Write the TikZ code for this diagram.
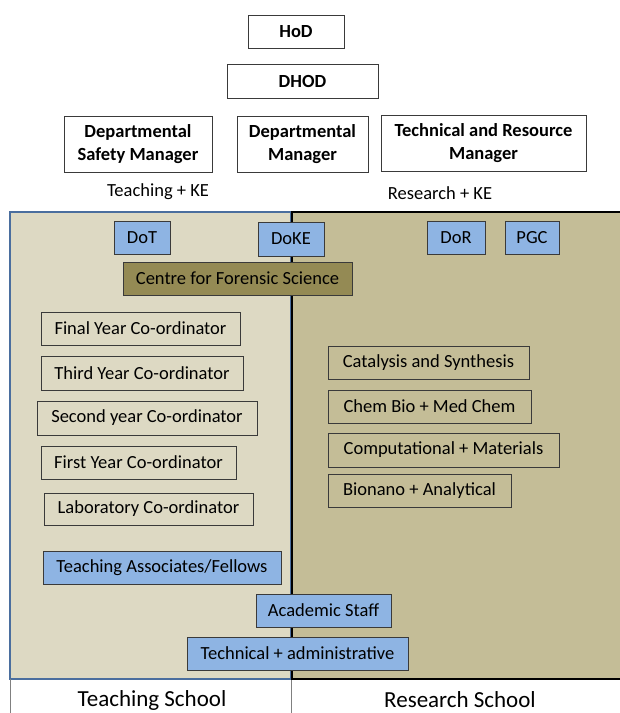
\documentclass[tikz,border=0pt]{standalone}
\usepackage{fontspec}
\setmainfont{Carlito}
\definecolor{panelL}{HTML}{DDD9C3}
\definecolor{panelR}{HTML}{C4BD97}
\definecolor{boxblue}{HTML}{8EB4E3}
\definecolor{olive}{HTML}{948A54}
\definecolor{bordblue}{HTML}{4A6E9E}
\definecolor{boxline}{HTML}{3A3A3A}
\begin{document}
\begin{tikzpicture}[x=1pt,y=-1pt,
  base/.style={draw=boxline,line width=0.9pt,inner sep=0pt,align=center,
    font=\fontsize{18.5}{22.5}\selectfont},
  topbox/.style={base,fill=white,font=\fontsize{18.5}{22.5}\selectfont\bfseries},
  bluebox/.style={base,fill=boxblue},
  coordbox/.style={base,fill=none},
  olivebox/.style={base,fill=olive},
  plain/.style={inner sep=0pt,font=\fontsize{18.5}{22.5}\selectfont},
  schoollabel/.style={inner sep=0pt,font=\fontsize{23}{27}\selectfont}]
\useasboundingbox (0,0) rectangle (620,713);
\fill[white] (0,0) rectangle (620,713);
% top hierarchy
\node[topbox,minimum width=96pt,minimum height=33pt] (hod) at (296,31.5) {HoD};
\node[topbox,minimum width=151pt,minimum height=34pt] (dhod) at (302.5,81) {DHOD};
\node[topbox,minimum width=148pt,minimum height=56pt] (dsm) at (138,144) {Departmental\\Safety Manager};
\node[topbox,minimum width=131pt,minimum height=56pt] (dm) at (302.5,144) {Departmental\\Manager};
\node[topbox,minimum width=205pt,minimum height=56pt] (trm) at (483.5,143) {Technical and Resource\\Manager};
\node[plain] (tke) at (158,192) {Teaching + KE};
\node[plain] (rke) at (440,193) {Research + KE};
% panels
\path[fill=panelL,draw=bordblue,line width=1.8pt] (10,212) rectangle (291,679);
\path[fill=panelR,draw=black,line width=2.4pt] (292,212) rectangle (628,679);
\coordinate (lb1) at (10,679);
\coordinate (lb2) at (10,713);
\coordinate (db1) at (291.5,680);
\coordinate (db2) at (291.5,713);
\draw[gray,line width=0.8pt] (lb1) -- (lb2);
\draw[gray,line width=0.8pt] (db1) -- (db2);
% heads
\node[bluebox,minimum width=56pt,minimum height=33pt] (dot) at (142,237.5) {DoT};
\node[bluebox,minimum width=66pt,minimum height=34pt] (doke) at (291,239) {DoKE};
\node[bluebox,minimum width=58pt,minimum height=33pt] (dor) at (456,237.5) {DoR};
\node[bluebox,minimum width=54pt,minimum height=33pt] (pgc) at (532,237.5) {PGC};
\node[olivebox,minimum width=229pt,minimum height=33pt] (cfs) at (237.5,278.5) {Centre for Forensic Science};
% teaching coordinators
\node[coordbox,minimum width=199pt,minimum height=33pt] (fy) at (140.5,328.5) {Final Year Co-ordinator};
\node[coordbox,minimum width=202pt,minimum height=34pt] (ty) at (142,373) {Third Year Co-ordinator};
\node[coordbox,minimum width=220pt,minimum height=34pt] (sy) at (147,418) {Second year Co-ordinator};
\node[coordbox,minimum width=195pt,minimum height=33pt] (fiy) at (138.5,462.5) {First Year Co-ordinator};
\node[coordbox,minimum width=209pt,minimum height=32pt] (lab) at (148.5,509) {Laboratory Co-ordinator};
% research groups
\node[coordbox,minimum width=201pt,minimum height=33pt] (cat) at (428.5,362.5) {Catalysis and Synthesis};
\node[coordbox,minimum width=203pt,minimum height=33pt] (cbm) at (429.5,406.5) {Chem Bio + Med Chem};
\node[coordbox,minimum width=231pt,minimum height=34pt] (comp) at (443.5,450) {Computational + Materials};
\node[coordbox,minimum width=183pt,minimum height=33pt] (bion) at (419.5,490.5) {Bionano + Analytical};
% staff
\node[bluebox,minimum width=238pt,minimum height=33pt] (taf) at (162,567.5) {Teaching Associates/Fellows};
\node[bluebox,minimum width=135pt,minimum height=33pt] (acs) at (323.5,610.5) {Academic Staff};
\node[bluebox,minimum width=221pt,minimum height=33pt] (tad) at (297.5,653.5) {Technical + administrative};
% school labels
\node[schoollabel] (ts) at (152,700) {Teaching School};
\node[schoollabel] (rs) at (460,700) {Research School};
\end{tikzpicture}
\end{document}
